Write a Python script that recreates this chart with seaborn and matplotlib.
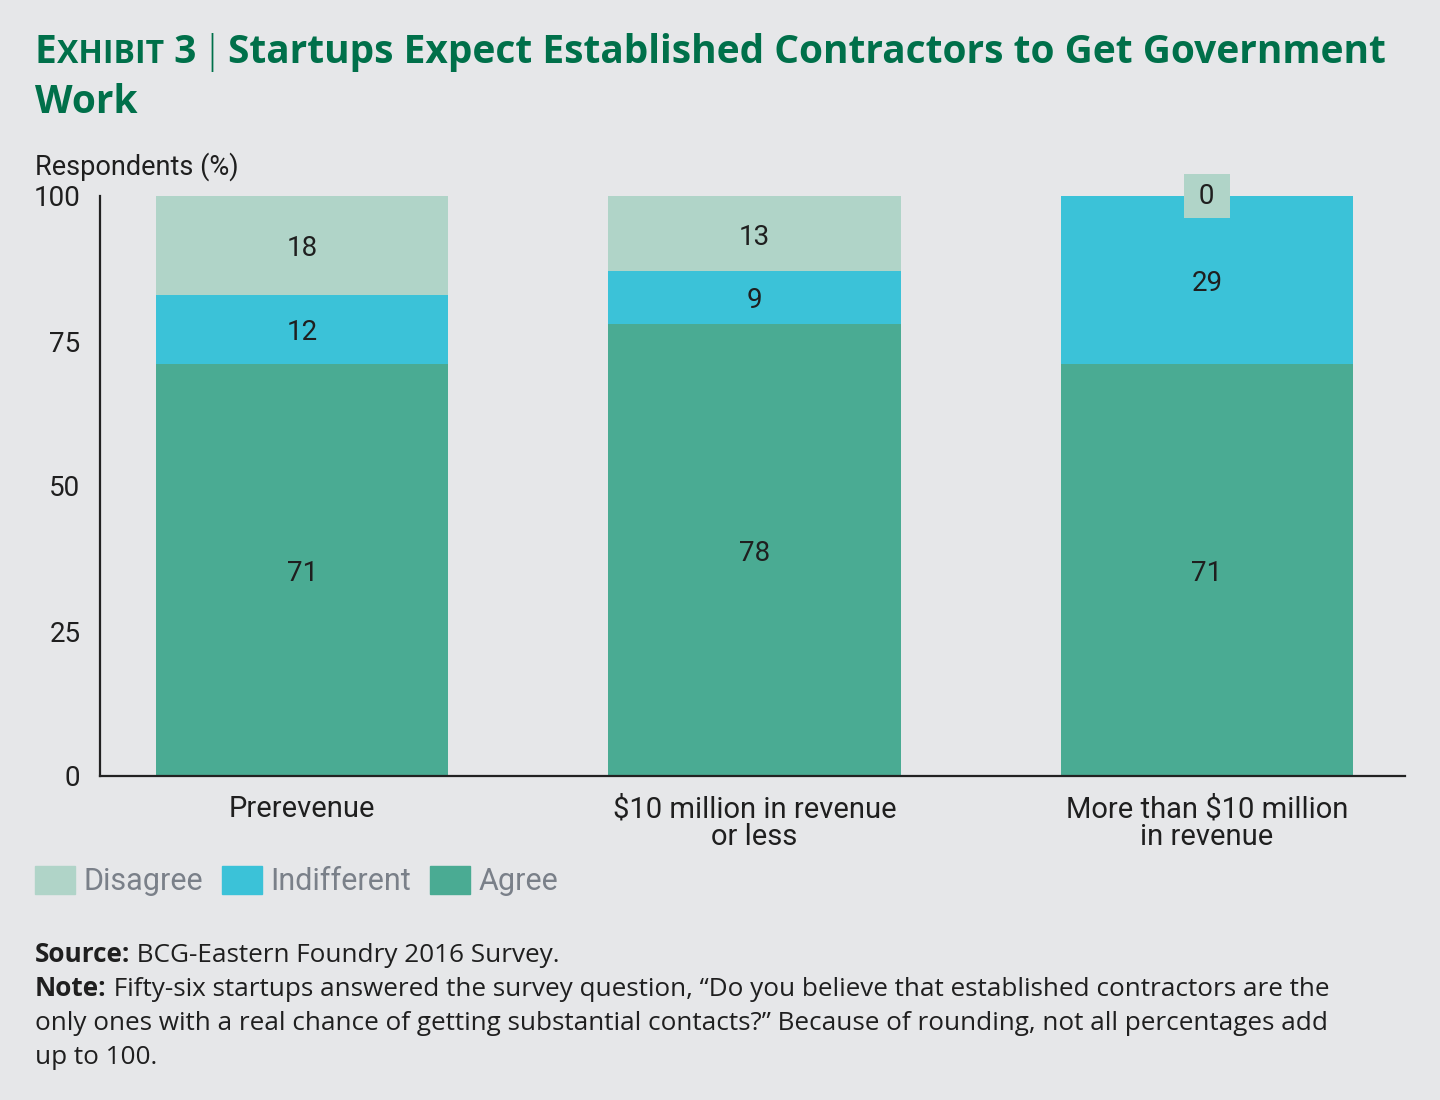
import matplotlib
matplotlib.use('Agg')
import matplotlib.pyplot as plt
import matplotlib.patches as mpatches
import numpy as np
import pandas as pd
import seaborn as sns

# Data
groups = ['Prerevenue', '$10 million in revenue\nor less', 'More than $10 million\nin revenue']
agree = [71, 78, 71]
indifferent = [12, 9, 29]
disagree = [18, 13, 0]

BG = '#e6e7e9'
C_DIS = '#b0d4c8'
C_IND = '#3bc2d8'
C_AGR = '#4aab93'
GREEN = '#00704a'
INK = '#1f1f1f'

sns.set_theme(style='white')
plt.rcParams['font.family'] = ['Roboto', 'DejaVu Sans']

df = pd.DataFrame({'group': groups, 'Agree': agree,
                   'Indifferent': indifferent, 'Disagree': disagree})
df['cum_ind'] = df['Agree'] + df['Indifferent']
df['cum_dis'] = df['cum_ind'] + df['Disagree']

fig = plt.figure(figsize=(14.4, 11), dpi=100, facecolor=BG)
ax = fig.add_axes([100 / 1440, 1 - 776 / 1100, 1305 / 1440, 580 / 1100])
ax.set_facecolor(BG)

# stacked bars drawn as overlapping cumulative bars
w = 0.646
sns.barplot(data=df, x='group', y='cum_dis', color=C_DIS, width=w,
            saturation=1, ax=ax, linewidth=0)
sns.barplot(data=df, x='group', y='cum_ind', color=C_IND, width=w,
            saturation=1, ax=ax, linewidth=0)
sns.barplot(data=df, x='group', y='Agree', color=C_AGR, width=w,
            saturation=1, ax=ax, linewidth=0)

ax.set_ylim(0, 100)
ax.set_xlim(-0.447, 2.438)
ax.set_yticks([0, 25, 50, 75, 100])
ax.set_xlabel('')
ax.set_ylabel('')
ax.tick_params(axis='y', length=0, pad=14, labelsize=20, labelcolor=INK)
ax.tick_params(axis='x', length=0, pad=14, labelsize=21, labelcolor=INK)
for lbl in ax.get_xticklabels():
    lbl.set_linespacing(0.98)
for s in ['top', 'right']:
    ax.spines[s].set_visible(False)
for s in ['left', 'bottom']:
    ax.spines[s].set_color('#222222')
    ax.spines[s].set_linewidth(1.6)

# segment labels
for i in range(len(groups)):
    segs = [(0, df.loc[i, 'Agree'], df.loc[i, 'Agree']),
            (df.loc[i, 'Agree'], min(df.loc[i, 'cum_ind'], 100), df.loc[i, 'Indifferent']),
            (min(df.loc[i, 'cum_ind'], 100), min(df.loc[i, 'cum_dis'], 100), df.loc[i, 'Disagree'])]
    for lo, hi, val in segs:
        if val == 0:
            ax.text(i, 100, ' %d ' % val, ha='center', va='center', fontsize=20,
                    color=INK, clip_on=False, zorder=5,
                    bbox=dict(boxstyle='square,pad=0.3', fc=C_DIS, ec='none'))
        else:
            ax.text(i, (lo + hi) / 2 - 0.6, str(val), ha='center', va='center',
                    fontsize=20, color=INK)

fig.text(35 / 1440, 1 - 167 / 1100, 'Respondents (%)', fontsize=19.5,
         color=INK, va='center', ha='left')

# title with small caps, drawn piece by piece
renderer = fig.canvas.get_renderer()


def run_text(x, y, parts):
    for s, kw in parts:
        t = fig.text(x, y, s, va='baseline', ha='left', **kw)
        bb = t.get_window_extent(renderer=renderer)
        x = fig.transFigure.inverted().transform((bb.x1, bb.y0))[0]
    return x


tk = dict(color=GREEN, fontweight='bold', family=['Open Sans', 'DejaVu Sans'])
y1 = 1 - 63 / 1100
run_text(35 / 1440, y1, [('E', dict(fontsize=28, **tk)),
                         ('XHIBIT', dict(fontsize=23, **tk)),
                         (' 3', dict(fontsize=28, **tk)),
                         (' ', dict(fontsize=14, **tk)),
                         ('|', dict(fontsize=28, color=GREEN, fontweight='light',
                                    family=['Open Sans', 'DejaVu Sans'])),
                         (' ', dict(fontsize=16, **tk)),
                         ('Startups Expect Established Contractors to Get Government',
                          dict(fontsize=28, **tk))])
fig.text(35 / 1440, 1 - 113 / 1100, 'Work', va='baseline', ha='left',
         fontsize=28, **tk)

# legend
handles = [mpatches.Patch(color=C_DIS, label='Disagree'),
           mpatches.Patch(color=C_IND, label='Indifferent'),
           mpatches.Patch(color=C_AGR, label='Agree')]
leg = fig.legend(handles=handles, loc='center left',
                 bbox_to_anchor=(35 / 1440, 1 - 881 / 1100), ncol=3,
                 frameon=False, fontsize=22, handlelength=1.3,
                 handleheight=1.05, handletextpad=0.3, columnspacing=0.6,
                 borderpad=0, borderaxespad=0)
for t in leg.get_texts():
    t.set_color('#7a8089')

# footer
fk = dict(fontsize=18.8, color=INK, family=['Open Sans', 'DejaVu Sans'])
run_text(35 / 1440, 1 - 962 / 1100, [('Source:', dict(fontweight='bold', **fk)),
                                    (' BCG-Eastern Foundry 2016 Survey.', fk)])
run_text(35 / 1440, 1 - 996 / 1100, [('Note:', dict(fontweight='bold', **fk)),
                                    (' Fifty-six startups answered the survey question, \u201cDo you believe that established contractors are the', fk)])
fig.text(35 / 1440, 1 - 1030 / 1100,
         'only ones with a real chance of getting substantial contacts?\u201d Because of rounding, not all percentages add',
         va='baseline', **fk)
fig.text(35 / 1440, 1 - 1064 / 1100, 'up to 100.', va='baseline', **fk)

fig.savefig('out.png', dpi=100, facecolor=BG)
